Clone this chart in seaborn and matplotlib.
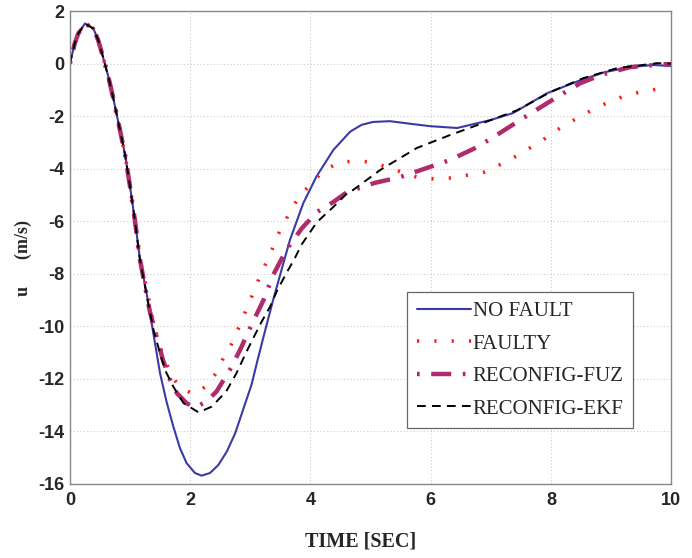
import matplotlib
matplotlib.use("Agg")
import matplotlib.pyplot as plt
import seaborn as sns
import pandas as pd

# ---- data ----
t_nofault = [0, 0.08, 0.14, 0.25, 0.39, 0.47, 0.55, 0.64, 0.72, 0.83, 0.92, 1.0, 1.08, 1.16,
             1.28, 1.39, 1.5, 1.61, 1.72, 1.83, 1.94, 2.08, 2.19, 2.33, 2.47, 2.61, 2.75, 2.88,
             3.02, 3.12, 3.22, 3.38, 3.55, 3.66, 3.88, 4.1, 4.38, 4.66, 4.85, 5.04, 5.32, 5.7,
             5.99, 6.44, 6.99, 7.37, 7.94, 8.49, 8.9, 9.32, 9.7, 10.0]
u_nofault = [0, 0.77, 1.15, 1.53, 1.34, 0.9, 0.26, -0.5, -1.3, -2.5, -3.5, -4.68, -5.95, -7.35,
             -8.8, -10.3, -11.8, -12.9, -13.82, -14.64, -15.21, -15.59, -15.69, -15.59, -15.28,
             -14.77, -14.07, -13.18, -12.23, -11.3, -10.4, -9.0, -7.6, -6.71, -5.32, -4.3, -3.29,
             -2.59, -2.33, -2.22, -2.19, -2.3, -2.38, -2.45, -2.15, -1.88, -1.12, -0.63, -0.32,
             -0.13, -0.05, -0.09]

t_faulty = [0, 0.08, 0.14, 0.25, 0.39, 0.47, 0.55, 0.64, 0.72, 0.83, 0.92, 1.0, 1.08, 1.16,
            1.28, 1.4, 1.5, 1.58, 1.68, 1.82, 2.05, 2.28, 2.44, 2.55, 2.69, 2.82, 2.93, 3.04,
            3.14, 3.25, 3.36, 3.46, 3.59, 3.71, 3.88, 4.03, 4.21, 4.46, 4.74, 5.02, 5.27, 5.52,
            5.77, 6.06, 6.36, 6.62, 6.89, 7.14, 7.37, 7.62, 7.84, 8.05, 8.29, 8.5, 8.74, 8.97,
            9.22, 9.48, 9.77, 9.9]
u_faulty = [0, 0.77, 1.15, 1.53, 1.34, 0.9, 0.26, -0.5, -1.3, -2.5, -3.5, -4.68, -5.95, -7.4,
            -8.6, -10.0, -10.8, -11.28, -11.85, -12.3, -12.59, -12.27, -11.76, -11.22, -10.67,
            -9.99, -9.38, -8.78, -8.21, -7.65, -7.09, -6.52, -5.95, -5.42, -4.89, -4.54, -4.09,
            -3.78, -3.7, -3.75, -3.94, -4.13, -4.32, -4.39, -4.35, -4.24, -4.13, -3.86, -3.59,
            -3.25, -2.95, -2.6, -2.26, -2.0, -1.69, -1.46, -1.23, -1.08, -0.97, -0.93]

t_fuz = [0, 0.08, 0.14, 0.25, 0.39, 0.47, 0.55, 0.64, 0.72, 0.83, 0.92, 1.0, 1.08, 1.16,
         1.25, 1.33, 1.44, 1.55, 1.66, 1.78, 1.95, 2.1, 2.28, 2.44, 2.66, 2.83, 3.02, 3.22,
         3.38, 3.6, 3.86, 4.11, 4.38, 4.61, 5.07, 5.49, 5.94, 6.32, 6.77, 7.15, 7.54, 7.94,
         8.32, 8.49, 8.87, 9.32, 9.87, 10.0]
u_fuz = [0, 0.77, 1.15, 1.53, 1.34, 0.9, 0.26, -0.5, -1.3, -2.5, -3.5, -4.68, -5.95, -7.4,
         -8.49, -9.44, -10.39, -11.3, -12.0, -12.55, -12.95, -13.08, -12.85, -12.48, -11.66,
         -10.9, -9.95, -9.0, -8.05, -7.09, -6.26, -5.65, -5.27, -4.89, -4.54, -4.32, -3.97,
         -3.67, -3.18, -2.64, -2.07, -1.5, -0.97, -0.74, -0.4, -0.13, -0.02, -0.02]

t_ekf = [0, 0.08, 0.14, 0.25, 0.39, 0.47, 0.55, 0.64, 0.72, 0.83, 0.92, 1.0, 1.08, 1.16,
         1.28, 1.39, 1.53, 1.6, 1.72, 1.89, 2.14, 2.36, 2.6, 2.77, 2.92, 3.05, 3.19, 3.33,
         3.45, 3.6, 3.74, 3.85, 4.11, 4.38, 4.63, 4.71, 5.16, 5.77, 6.32, 6.87, 7.44, 7.99,
         8.54, 9.1, 9.77, 10.0]
u_ekf = [0, 0.77, 1.15, 1.53, 1.34, 0.9, 0.26, -0.5, -1.3, -2.5, -3.5, -4.68, -5.95, -7.4,
         -8.87, -10.14, -11.28, -11.75, -12.3, -12.93, -13.28, -13.06, -12.48, -11.79, -11.05,
         -10.45, -9.82, -9.25, -8.62, -7.98, -7.41, -6.9, -6.03, -5.46, -4.89, -4.81, -4.05,
         -3.21, -2.72, -2.26, -1.77, -1.08, -0.55, -0.17, 0.02, 0.0]

labels = ["NO FAULT", "FAULTY", "RECONFIG-FUZ", "RECONFIG-EKF"]
x_ticks = [0, 2, 4, 6, 8, 10]
y_ticks = [2, 0, -2, -4, -6, -8, -10, -12, -14, -16]

series = [(t_nofault, u_nofault), (t_faulty, u_faulty), (t_fuz, u_fuz), (t_ekf, u_ekf)]
styles = [
    dict(color="#3a3aa6", lw=1.5, ls="-"),
    dict(color="#ff1a1a", lw=2.6, ls=(0, (0.6, 4.2))),
    dict(color="#b02a6c", lw=3.2, ls=(0, (0.6, 2.6, 4.5, 2.6))),
    dict(color="black", lw=1.4, ls=(0, (4.5, 3.2))),
]

sns.set_style("white")
plt.rcParams["font.family"] = ["Liberation Sans", "DejaVu Sans"]
plt.rcParams["axes.unicode_minus"] = False

fig = plt.figure(figsize=(6.92, 5.58), dpi=100)
ax = fig.add_axes([0.101, 0.133, 0.869, 0.847])

for (t, u), lab, st in zip(series, labels, styles):
    df = pd.DataFrame({"t": t, "u": u})
    sns.lineplot(data=df, x="t", y="u", ax=ax, sort=False, estimator=None,
                 color=st["color"], linewidth=st["lw"], linestyle=st["ls"], label=lab)

ax.set_xlim(0, 10)
ax.set_ylim(-16, 2)
ax.set_xticks(x_ticks)
ax.set_yticks(y_ticks)
ax.tick_params(axis="both", direction="in", length=4, color="#888888", labelsize=13)
ax.tick_params(axis="y", pad=4)
ax.tick_params(axis="x", pad=6)
for lbl in ax.get_xticklabels() + ax.get_yticklabels():
    lbl.set_fontweight("bold")
ax.grid(True, color="#cccccc", linestyle=(0, (1, 2)), linewidth=0.8)
for s in ax.spines.values():
    s.set_color("#888888")
    s.set_linewidth(1.0)

ax.set_xlabel("TIME [SEC]", family=["Liberation Serif"], fontweight="bold", fontsize=14.5)
ax.xaxis.set_label_coords(0.484, -0.102)
ax.set_ylabel("u      (m/s)", family=["Liberation Serif"], fontweight="bold", fontsize=13)
ax.yaxis.set_label_coords(-0.078, 0.478)
ax.yaxis.label.set_va("center")

leg = ax.legend(loc="lower left", bbox_to_anchor=(0.561, 0.118), borderaxespad=0,
                frameon=True, fancybox=False,
                edgecolor="#666666", framealpha=1, handlelength=2.6, handletextpad=0.1,
                labelspacing=0.62, borderpad=0.45,
                prop={"family": "Liberation Serif", "size": 15})
leg.get_frame().set_linewidth(0.9)

fig.savefig("out.png", dpi=100)
